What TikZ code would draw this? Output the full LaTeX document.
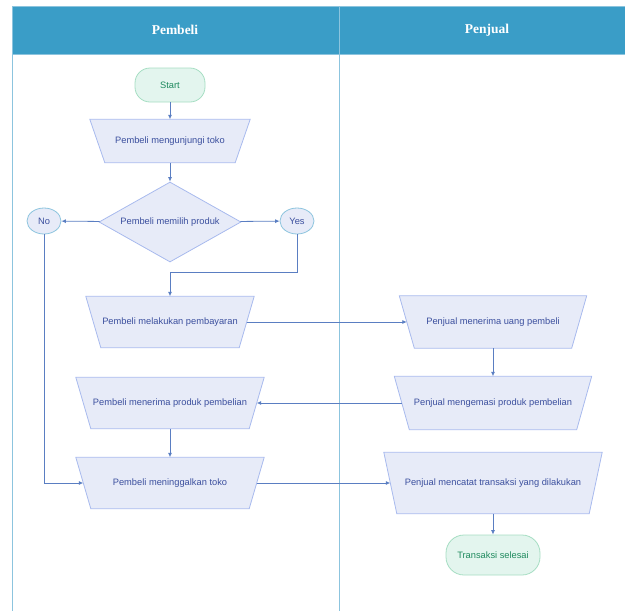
\documentclass[tikz,border=0pt]{standalone}
\usepackage{fontspec}
\setmainfont{Liberation Sans}
\newfontfamily\headfont{Liberation Serif}
\usetikzlibrary{shapes.geometric,arrows.meta,backgrounds}
\definecolor{headblue}{HTML}{3A9DC7}
\definecolor{laneline}{HTML}{8CC4DE}
\definecolor{procfill}{HTML}{E7EBF8}
\definecolor{procdraw}{HTML}{A8BAEE}
\definecolor{proctext}{HTML}{3B4F9E}
\definecolor{termfill}{HTML}{E3F5EE}
\definecolor{termdraw}{HTML}{A6DEC3}
\definecolor{termtext}{HTML}{1F8A5E}
\definecolor{arrcol}{HTML}{5A7EC2}
\tikzset{
  proc/.style={rectangle, text=proctext, font=\fontsize{9.3}{11}\selectfont, inner sep=2pt},
  procshape/.style={fill=procfill, draw=procdraw, line width=0.8pt},
  term/.style={rectangle, rounded corners=15pt, fill=termfill, draw=termdraw,
    line width=0.8pt, text=termtext, font=\fontsize{9.3}{11}\selectfont},
  dec/.style={diamond, aspect=1.78, fill=procfill, draw=procdraw, line width=0.8pt,
    text=proctext, font=\fontsize{9.3}{11}\selectfont, inner sep=0pt},
  yn/.style={ellipse, fill=procfill, draw=laneline, line width=0.8pt,
    text=proctext, font=\fontsize{9.3}{11}\selectfont, inner sep=0pt,
    minimum width=34pt, minimum height=26pt},
  arr/.style={draw=arrcol, line width=0.8pt, -{Latex[length=4.5pt,width=4pt]}},
  lane/.style={draw=laneline, line width=0.8pt},
  headtext/.style={text=white, font=\headfont\bfseries\fontsize{13.5}{15}\selectfont}
}
% \trapshape{node}{half offset}: trapezoid wider at top around a node
\newcommand{\trapshape}[2]{%
  \draw[procshape] ([xshift=-#2pt]#1.north west) -- ([xshift=#2pt]#1.north east)
    -- ([xshift=-#2pt]#1.south east) -- ([xshift=#2pt]#1.south west) -- cycle;}
\begin{document}
\begin{tikzpicture}[x=1pt,y=-1pt]
\useasboundingbox (0,0) rectangle (625,611);
% swimlanes
\fill[headblue] (12,6) rectangle (625,54);
\draw[lane] (12,6) -- (625,6);
\draw[lane] (12,54) -- (625,54);
\draw[lane] (12,6) -- (12,611);
\draw[lane] (339,6) -- (339,611);
\node[headtext] (hpembeli) at (175,30) {Pembeli};
\node[headtext] (hpenjual) at (487,30) {Penjual};

% nodes (width = mid-height width of the trapezoid)
\node[term, minimum width=70pt, minimum height=34pt] (start) at (170,85) {Start};
\node[proc, minimum width=145pt, minimum height=43pt] (visit) at (170,141) {Pembeli mengunjungi toko};
\node[dec, minimum width=142pt, minimum height=80pt] (choose) at (170,222) {Pembeli memilih produk};
\node[yn] (no) at (44,221) {No};
\node[yn] (yes) at (297,221) {Yes};
\node[proc, minimum width=153pt, minimum height=51pt] (pay) at (170,322) {Pembeli melakukan pembayaran};
\node[proc, minimum width=173pt, minimum height=51pt] (get) at (170,403) {Pembeli menerima produk pembelian};
\node[proc, minimum width=173pt, minimum height=51pt] (leave) at (170,483) {Pembeli meninggalkan toko};
\node[proc, minimum width=172pt, minimum height=52pt] (recv) at (493,322) {Penjual menerima uang pembeli};
\node[proc, minimum width=182pt, minimum height=53pt] (pack) at (493,403) {Penjual mengemasi produk pembelian};
\node[proc, minimum width=205pt, minimum height=61pt] (rec) at (493,483) {Penjual mencatat transaksi yang dilakukan};
\node[term, rounded corners=18pt, minimum width=94pt, minimum height=40pt] (done) at (493,555) {Transaksi selesai};

\begin{scope}[on background layer]
  \trapshape{visit}{7.5}
  \trapshape{pay}{7.5}
  \trapshape{get}{7.5}
  \trapshape{leave}{7.5}
  \trapshape{recv}{7.5}
  \trapshape{pack}{7.5}
  \trapshape{rec}{6.5}
\end{scope}

\coordinate (yturn) at (0,272);

% connectors
\draw[arr] (start) -- (visit);
\draw[arr] (visit) -- (choose);
\draw[arr] (choose) -- (no);
\draw[arr] (choose) -- (yes);
\draw[arr] (yes.south) -- (yes.south |- yturn) -- (pay.north |- yturn) -- (pay.north);
\draw[arr] (no.south) |- (leave.west);
\draw[arr] (pay.east) -- (recv.west);
\draw[arr] (recv) -- (pack);
\draw[arr] (pack.west) -- (get.east);
\draw[arr] (get) -- (leave);
\draw[arr] (leave.east) -- (rec.west);
\draw[arr] (rec) -- (done);
\end{tikzpicture}
\end{document}
